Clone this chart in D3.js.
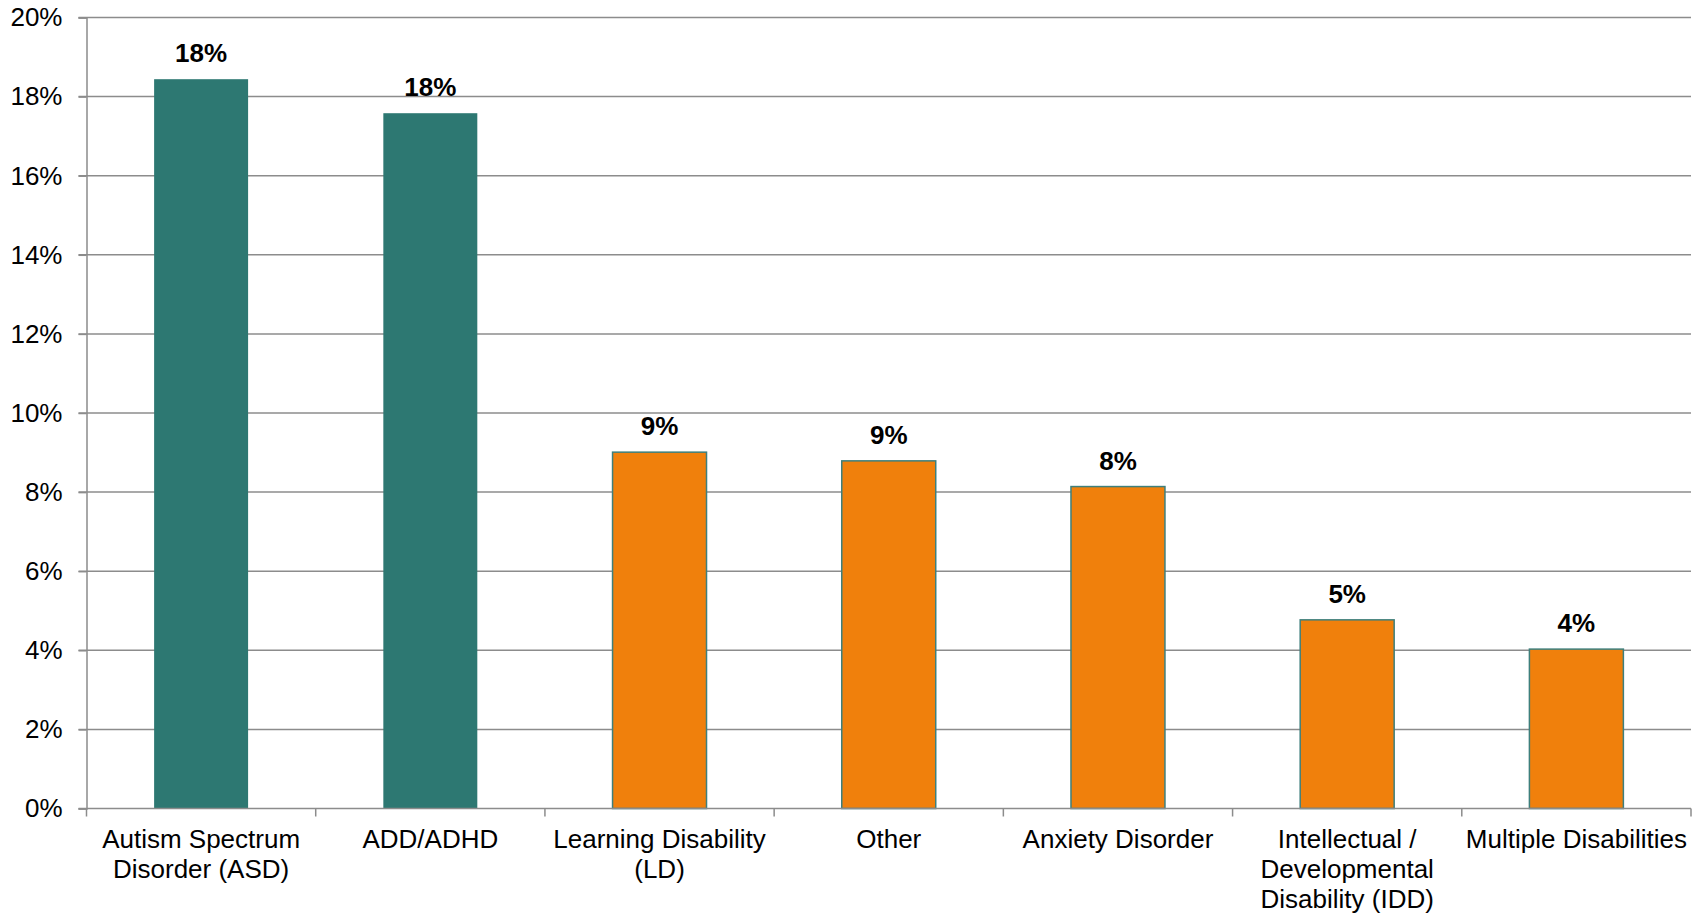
<!DOCTYPE html>
<html>
<head>
<meta charset="utf-8">
<script src="https://cdn.jsdelivr.net/npm/d3@7"></script>
<style>
  html, body { margin: 0; padding: 0; background: #fff; }
  svg { display: block; }
  text { font-family: "Liberation Sans", Arial, Helvetica, sans-serif; fill: #000; }
</style>
</head>
<body>
<svg id="chart" width="1707" height="915"></svg>
<script>
const categories = [
  "Autism Spectrum Disorder (ASD)",
  "ADD/ADHD",
  "Learning Disability (LD)",
  "Other",
  "Anxiety Disorder",
  "Intellectual / Developmental Disability (IDD)",
  "Multiple Disabilities"
];
const values = [0.1844, 0.1758, 0.0901, 0.0879, 0.0814, 0.0477, 0.0403];
const valueLabels = ["18%", "18%", "9%", "9%", "8%", "5%", "4%"];
const groups = ["top", "top", "other", "other", "other", "other", "other"];
const yTicks = [0, 0.02, 0.04, 0.06, 0.08, 0.10, 0.12, 0.14, 0.16, 0.18, 0.20];

const W = 1707, H = 915;
const margin = { top: 17.5, right: 16, bottom: 106.5, left: 86.5 };
const svg = d3.select("#chart");
const fontSize = 26;

const x = d3.scaleBand()
  .domain(categories)
  .range([margin.left, W - margin.right])
  .paddingInner(0.59)
  .paddingOuter(0.295);

const xb = d3.scaleBand().domain(categories).range([margin.left, W - margin.right]);

const y = d3.scaleLinear()
  .domain([0, 0.20])
  .range([H - margin.bottom, margin.top]);

const gridColor = "#8c8c8c";

// Gridlines
svg.append("g")
  .selectAll("line")
  .data(yTicks.filter(d => d > 0))
  .join("line")
  .attr("x1", margin.left - 8)
  .attr("x2", W - margin.right)
  .attr("y1", d => y(d))
  .attr("y2", d => y(d))
  .attr("stroke", gridColor)
  .attr("stroke-width", 1.5);

// Y axis
const yAxis = svg.append("g")
  .attr("transform", `translate(${margin.left},0)`)
  .call(d3.axisLeft(y).tickValues(yTicks).tickFormat(d3.format(".0%")).tickSize(8).tickPadding(16));
yAxis.select(".domain").attr("stroke", gridColor).attr("stroke-width", 1.5);
yAxis.selectAll(".tick line").attr("stroke", gridColor).attr("stroke-width", 1.5);
yAxis.selectAll(".tick text")
  .attr("font-size", fontSize)
  .style("font-family", '"Liberation Sans", Arial, sans-serif')
  .attr("fill", "#000");

// Bars
const colors = { top: "#2d7872", other: "#f0800c" };
svg.append("g")
  .selectAll("rect")
  .data(categories)
  .join("rect")
  .attr("x", d => x(d))
  .attr("width", x.bandwidth())
  .attr("y", (d, i) => y(values[i]))
  .attr("height", (d, i) => y(0) - y(values[i]))
  .attr("fill", (d, i) => colors[groups[i]])
  .attr("stroke", (d, i) => groups[i] === "other" ? "#3e7f7c" : "none")
  .attr("stroke-width", 1.5);

// Value labels
svg.append("g")
  .selectAll("text")
  .data(categories)
  .join("text")
  .attr("x", d => x(d) + x.bandwidth() / 2)
  .attr("y", (d, i) => y(values[i]) - 17)
  .attr("text-anchor", "middle")
  .attr("font-size", fontSize)
  .attr("font-weight", "bold")
  .text((d, i) => valueLabels[i]);

// X axis
const xAxis = svg.append("g")
  .attr("transform", `translate(0,${y(0)})`);
xAxis.append("line")
  .attr("x1", margin.left - 8).attr("x2", W - margin.right)
  .attr("y1", 0).attr("y2", 0)
  .attr("stroke", gridColor).attr("stroke-width", 1.5);
const boundaries = categories.map(c => xb(c)).concat([xb(categories[categories.length - 1]) + xb.bandwidth()]);
xAxis.selectAll("line.tk")
  .data(boundaries)
  .join("line")
  .attr("class", "tk")
  .attr("x1", d => d).attr("x2", d => d)
  .attr("y1", 0).attr("y2", 8)
  .attr("stroke", gridColor).attr("stroke-width", 1.5);

// Category labels with wrapping
const measure = svg.append("text").attr("font-size", fontSize).attr("visibility", "hidden");
function textW(s) { measure.text(s); return measure.node().getComputedTextLength(); }
function wrap(s, maxW) {
  const words = s.split(" ");
  const lines = [];
  let cur = "";
  words.forEach(w => {
    const t = cur ? cur + " " + w : w;
    if (cur && textW(t) > maxW) { lines.push(cur); cur = w; } else { cur = t; }
  });
  if (cur) lines.push(cur);
  return lines;
}
const labelG = svg.append("g");
categories.forEach(c => {
  const lines = wrap(c, xb.bandwidth());
  const t = labelG.append("text")
    .attr("x", xb(c) + xb.bandwidth() / 2)
    .attr("y", y(0) + 39)
    .attr("text-anchor", "middle")
    .attr("font-size", fontSize);
  lines.forEach((l, i) => {
    t.append("tspan")
      .attr("x", xb(c) + xb.bandwidth() / 2)
      .attr("y", y(0) + 39 + i * 30)
      .text(l);
  });
});
measure.remove();
</script>
</body>
</html>
